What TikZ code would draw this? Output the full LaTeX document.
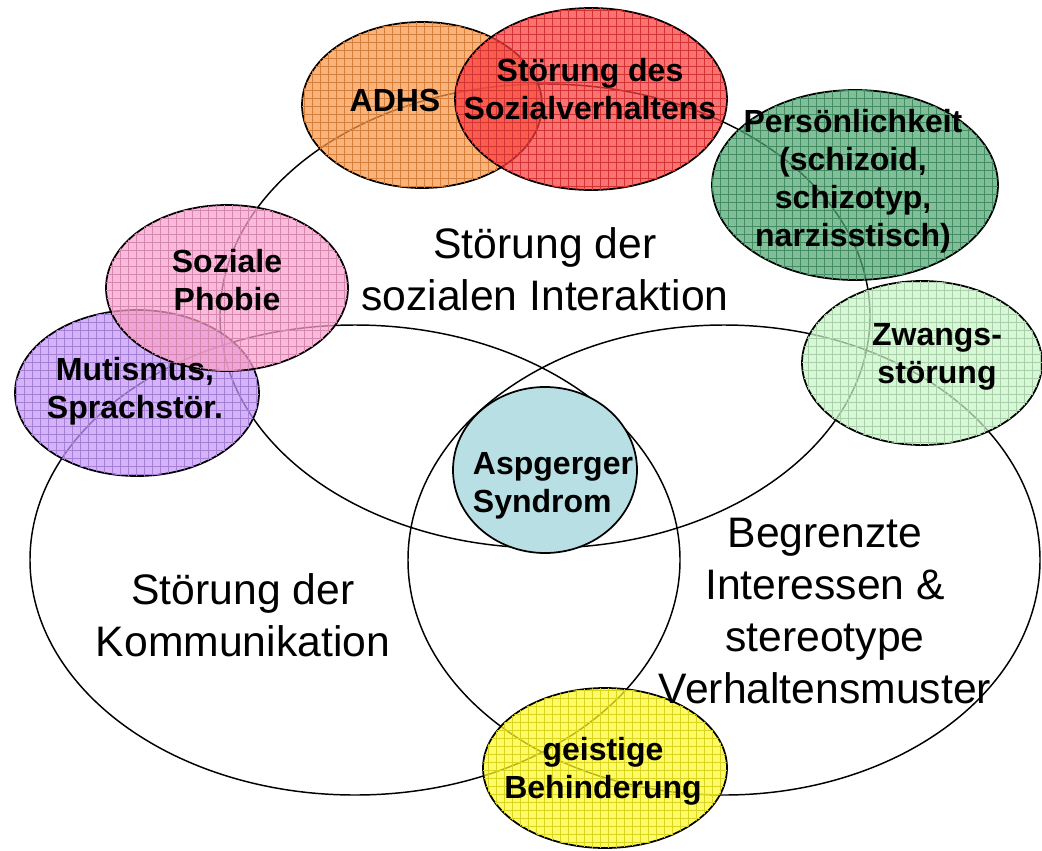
\documentclass[tikz,border=0pt]{standalone}
\usepackage{fontspec}
\setmainfont{Liberation Sans}
\usetikzlibrary{shapes.geometric,patterns.meta}
\definecolor{cadhs}{RGB}{250,150,70}
\definecolor{cred}{RGB}{250,60,60}
\definecolor{cpers}{RGB}{80,165,115}
\definecolor{czwang}{RGB}{200,245,200}
\definecolor{cpink}{RGB}{250,160,205}
\definecolor{cpurple}{RGB}{195,150,250}
\definecolor{casp}{RGB}{184,224,228}
\definecolor{cyel}{RGB}{255,250,40}
\tikzset{
  bigell/.style={ellipse,draw,line width=1.1pt,inner sep=0pt},
  smallell/.style={ellipse,draw,line width=1.3pt,inner sep=0pt,fill opacity=0.72,draw opacity=1},
  gridded/.style={postaction={pattern={Hatch[angle=0,distance=6pt,line width=0.4pt]},pattern color=#1,fill opacity=0.8}},
  bigtxt/.style={font=\fontsize{32}{39}\selectfont,align=center,inner sep=0pt},
  smalltxt/.style={font=\fontsize{24}{28.5}\selectfont\bfseries,align=center,inner sep=0pt}
}
\begin{document}
\begin{tikzpicture}[x=0.75pt,y=-0.75pt]
\useasboundingbox (0,0) rectangle (1042,850);
% big ellipses
\node[bigell,minimum width=487.5pt,minimum height=348pt] (inter) at (545,316) {};
\node[bigell,minimum width=487.5pt,minimum height=352.5pt] (komm) at (355,560) {};
\node[bigell,minimum width=474pt,minimum height=352.5pt] (inter2) at (724,560) {};
% small ellipses
\node[smallell,fill=cpurple,gridded=cpurple!85!black,minimum width=183pt,minimum height=124.5pt] (mut) at (137,393) {};
\node[smallell,fill=cpink,gridded=cpink!85!black,minimum width=181.5pt,minimum height=124.5pt] (phob) at (227,288) {};
\node[smallell,fill=cadhs,gridded=cadhs!85!black,minimum width=180pt,minimum height=124.5pt] (adhs) at (422,105) {};
\node[smallell,fill=cred,gridded=cred!85!black,minimum width=204pt,minimum height=136.5pt] (sozv) at (591,99) {};
\node[smallell,fill=cpers,gridded=cpers!85!black,minimum width=214.5pt,minimum height=142.5pt] (pers) at (855,185) {};
\node[smallell,fill=czwang,gridded=czwang!85!black,minimum width=180pt,minimum height=123pt] (zwang) at (922,363) {};
\node[ellipse,draw,line width=1.3pt,inner sep=0pt,fill=casp,minimum width=138pt,minimum height=124.5pt] (asp) at (545,470) {};
\node[smallell,fill=cyel,gridded=cyel!85!black,minimum width=183pt,minimum height=120pt] (geist) at (605,768) {};
% texts
\node[bigtxt] (tinter) at (545,269) {Störung der\\sozialen Interaktion};
\node[bigtxt] (tkomm) at (243,615) {Störung der\\Kommunikation};
\node[bigtxt] (tbeg) at (825,611) {Begrenzte\\Interessen \&\\stereotype\\Verhaltensmuster};
\node[smalltxt] (tadhs) at (395,100) {ADHS};
\node[smalltxt] (tsozv) at (590,89) {Störung des\\Sozialverhaltens};
\node[smalltxt] (tpers) at (853,181) {Persönlichkeit\\(schizoid,\\schizotyp,\\narzisstisch)};
\node[smalltxt] (tzwang) at (937,357) {Zwangs-\\störung};
\node[smalltxt] (tphob) at (227,280) {Soziale\\Phobie};
\node[smalltxt] (tmut) at (135,391) {Mutismus,\\Sprachstör.};
\node[smalltxt,align=left] (tasp) at (553,486) {Aspgerger\\Syndrom};
\node[smalltxt] (tgeist) at (603,771) {geistige\\Behinderung};
\end{tikzpicture}
\end{document}
